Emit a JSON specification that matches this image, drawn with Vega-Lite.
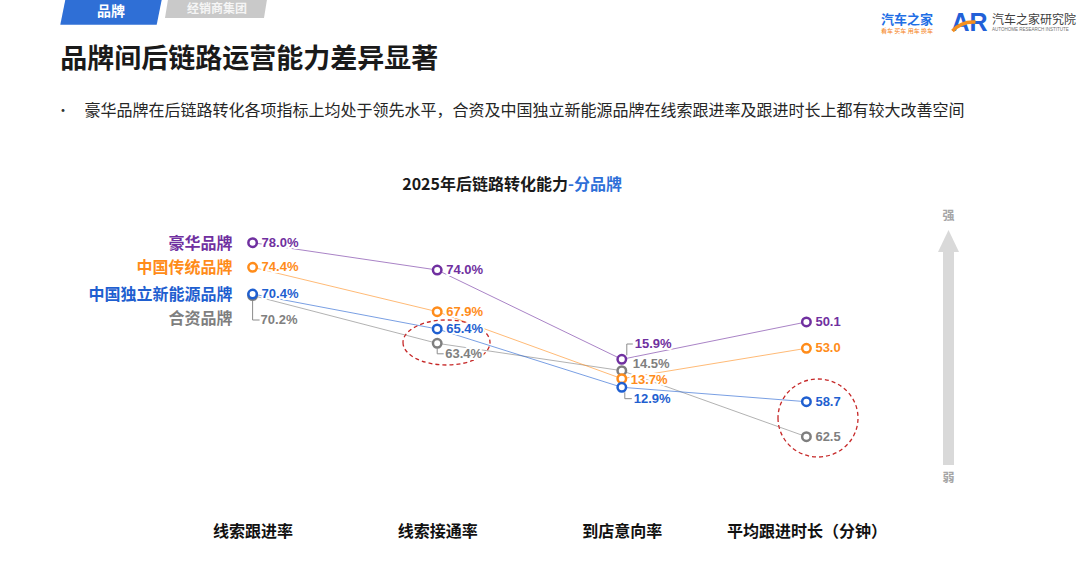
{
  "$schema": "https://vega.github.io/schema/vega-lite/v6.json",
  "width": 1080,
  "height": 515,
  "autosize": {"type": "none"},
  "padding": {"left": 0, "right": 0, "top": 0, "bottom": 53},
  "background": "#ffffff",
  "data": {"values": [
    {"brand": "合资品牌", "step": 1, "metric": "线索跟进率", "value": 70.2, "label": "70.2%", "score": 42.62},
    {"brand": "合资品牌", "step": 2, "metric": "线索接通率", "value": 63.4, "label": "63.4%", "score": 33.34},
    {"brand": "合资品牌", "step": 3, "metric": "到店意向率", "value": 14.5, "label": "14.5%", "score": 28.02},
    {"brand": "合资品牌", "step": 4, "metric": "平均跟进时长（分钟）", "value": 62.5, "label": "62.5", "score": 15.20},
    {"brand": "中国传统品牌", "step": 1, "metric": "线索跟进率", "value": 74.4, "label": "74.4%", "score": 48.10},
    {"brand": "中国传统品牌", "step": 2, "metric": "线索接通率", "value": 67.9, "label": "67.9%", "score": 39.48},
    {"brand": "中国传统品牌", "step": 3, "metric": "到店意向率", "value": 13.7, "label": "13.7%", "score": 26.47},
    {"brand": "中国传统品牌", "step": 4, "metric": "平均跟进时长（分钟）", "value": 53.0, "label": "53.0", "score": 32.37},
    {"brand": "豪华品牌", "step": 1, "metric": "线索跟进率", "value": 78.0, "label": "78.0%", "score": 52.87},
    {"brand": "豪华品牌", "step": 2, "metric": "线索接通率", "value": 74.0, "label": "74.0%", "score": 47.57},
    {"brand": "豪华品牌", "step": 3, "metric": "到店意向率", "value": 15.9, "label": "15.9%", "score": 30.23},
    {"brand": "豪华品牌", "step": 4, "metric": "平均跟进时长（分钟）", "value": 50.1, "label": "50.1", "score": 37.48},
    {"brand": "中国独立新能源品牌", "step": 1, "metric": "线索跟进率", "value": 70.4, "label": "70.4%", "score": 42.91},
    {"brand": "中国独立新能源品牌", "step": 2, "metric": "线索接通率", "value": 65.4, "label": "65.4%", "score": 36.12},
    {"brand": "中国独立新能源品牌", "step": 3, "metric": "到店意向率", "value": 12.9, "label": "12.9%", "score": 24.80},
    {"brand": "中国独立新能源品牌", "step": 4, "metric": "平均跟进时长（分钟）", "value": 58.7, "label": "58.7", "score": 22.00}
  ]},
  "layer": [
    {
      "mark": {"type": "line", "strokeWidth": 1, "opacity": 0.6},
      "encoding": {
        "x": {"field": "step", "type": "quantitative", "title": null,
              "scale": {"domain": [-0.36836, 5.48213], "nice": false, "zero": false},
              "axis": {"values": [1, 2, 3, 4], "labelExpr": "['','线索跟进率','线索接通率','到店意向率','平均跟进时长（分钟）'][datum.value]", "title": null}},
        "y": {"field": "score", "type": "quantitative", "title": null, "axis": null,
              "scale": {"domain": [0, 100], "nice": false, "zero": false}},
        "color": {"field": "brand", "type": "nominal", "legend": null,
                  "scale": {"domain": ["豪华品牌", "中国传统品牌", "中国独立新能源品牌", "合资品牌"], "range": ["#7030A0", "#FF8C1A", "#1F5FD0", "#7F7F7F"]}}
      }
    },
    {
      "data": {"values": [{}]},
      "mark": {"type": "point", "shape": "M -45.6 -13 L 50.8 -13 L 45.7 12.4 L -50.7 12.4 Z", "size": 4, "filled": true, "color": "#2F6FD6", "strokeWidth": 0, "opacity": 1},
      "encoding": {"x": {"datum": 0.2329, "type": "quantitative"}, "y": {"datum": 97.592, "type": "quantitative"}}
    },
    {
      "data": {"values": [{}]},
      "mark": {"type": "point", "shape": "M -48 -9.5 L 51 -9.5 L 48 9 L -51 9 Z", "size": 4, "filled": true, "color": "#C9C9C9", "strokeWidth": 0, "opacity": 1},
      "encoding": {"x": {"datum": 0.8017, "type": "quantitative"}, "y": {"datum": 98.252, "type": "quantitative"}}
    },
    {
      "data": {"values": [{}]},
      "mark": {"type": "text", "text": "品牌", "font": "Noto Sans CJK SC", "fontWeight": "bold", "fontSize": 14, "color": "#ffffff", "align": "center", "baseline": "middle"},
      "encoding": {"x": {"datum": 0.2329, "type": "quantitative"}, "y": {"datum": 97.67, "type": "quantitative"}}
    },
    {
      "data": {"values": [{}]},
      "mark": {"type": "text", "text": "经销商集团", "font": "Noto Sans CJK SC", "fontWeight": "bold", "fontSize": 12, "color": "#F5F5F5", "align": "center", "baseline": "middle"},
      "encoding": {"x": {"datum": 0.8072, "type": "quantitative"}, "y": {"datum": 98.3, "type": "quantitative"}}
    },
    {
      "data": {"values": [{}]},
      "mark": {"type": "text", "text": "品牌间后链路运营能力差异显著", "font": "Noto Sans CJK SC", "fontWeight": "bold", "fontSize": 27, "color": "#1A1A1A", "align": "left", "baseline": "middle"},
      "encoding": {"x": {"datum": -0.0417, "type": "quantitative"}, "y": {"datum": 88.35, "type": "quantitative"}}
    },
    {
      "data": {"values": [{}]},
      "mark": {"type": "text", "text": "•", "font": "Noto Sans CJK SC", "fontSize": 14, "color": "#333333", "align": "center", "baseline": "middle"},
      "encoding": {"x": {"datum": -0.0271, "type": "quantitative"}, "y": {"datum": 78.447, "type": "quantitative"}}
    },
    {
      "data": {"values": [{}]},
      "mark": {"type": "text", "text": "豪华品牌在后链路转化各项指标上均处于领先水平，合资及中国独立新能源品牌在线索跟进率及跟进时长上都有较大改善空间", "font": "Noto Sans CJK SC", "fontSize": 16, "color": "#262626", "align": "left", "baseline": "middle"},
      "encoding": {"x": {"datum": 0.0888, "type": "quantitative"}, "y": {"datum": 78.447, "type": "quantitative"}}
    },
    {
      "data": {"values": [{}]},
      "mark": {"type": "text", "text": "汽车之家", "font": "Noto Sans CJK SC", "fontWeight": "bold", "fontSize": 13, "color": "#1F6FE5", "align": "center", "baseline": "middle"},
      "encoding": {"x": {"datum": 4.545, "type": "quantitative"}, "y": {"datum": 96.117, "type": "quantitative"}}
    },
    {
      "data": {"values": [{}]},
      "mark": {"type": "text", "text": "看车 买车 用车 换车", "font": "Noto Sans CJK SC", "fontSize": 6, "color": "#F58220", "align": "center", "baseline": "middle"},
      "encoding": {"x": {"datum": 4.545, "type": "quantitative"}, "y": {"datum": 93.981, "type": "quantitative"}}
    },
    {
      "data": {"values": [{}]},
      "mark": {"type": "text", "text": "AR", "font": "Liberation Sans", "fontWeight": "bold", "fontSize": 25, "color": "#2260D8", "align": "center", "baseline": "middle"},
      "encoding": {"x": {"datum": 4.8836, "type": "quantitative"}, "y": {"datum": 95.534, "type": "quantitative"}}
    },
    {
      "data": {"values": [{}]},
      "mark": {"type": "point", "shape": "M -17 8 Q -8 -2 6 -1", "size": 4, "filled": false, "color": "#F5901F", "strokeWidth": 3.5, "opacity": 1},
      "encoding": {"x": {"datum": 4.8836, "type": "quantitative"}, "y": {"datum": 95.534, "type": "quantitative"}}
    },
    {
      "data": {"values": [{}]},
      "mark": {"type": "text", "text": "汽车之家研究院", "font": "Noto Sans CJK SC", "fontSize": 12, "color": "#404040", "align": "left", "baseline": "middle"},
      "encoding": {"x": {"datum": 5.0054, "type": "quantitative"}, "y": {"datum": 96.117, "type": "quantitative"}}
    },
    {
      "data": {"values": [{}]},
      "mark": {"type": "text", "text": "AUTOHOME RESEARCH INSTITUTE", "font": "Liberation Sans", "fontSize": 4.5, "color": "#707070", "align": "left", "baseline": "middle"},
      "encoding": {"x": {"datum": 5.0054, "type": "quantitative"}, "y": {"datum": 94.175, "type": "quantitative"}}
    },
    {
      "data": {"values": [{}]},
      "mark": {"type": "text", "text": "2025年后链路转化能力", "font": "Noto Sans CJK SC", "fontWeight": "bold", "fontSize": 16, "color": "#1A1A1A", "align": "right", "baseline": "middle"},
      "encoding": {"x": {"datum": 2.7086, "type": "quantitative"}, "y": {"datum": 64.078, "type": "quantitative"}}
    },
    {
      "data": {"values": [{}]},
      "mark": {"type": "text", "text": "-分品牌", "font": "Noto Sans CJK SC", "fontWeight": "bold", "fontSize": 16, "color": "#2E6FD8", "align": "left", "baseline": "middle"},
      "encoding": {"x": {"datum": 2.7086, "type": "quantitative"}, "y": {"datum": 64.078, "type": "quantitative"}}
    },
    {
      "data": {"values": [{}]},
      "mark": {"type": "rule", "strokeWidth": 11, "color": "#D9D9D9"},
      "encoding": {"x": {"datum": 4.7698, "type": "quantitative"}, "y": {"datum": 51.068, "type": "quantitative"}, "y2": {"datum": 9.709}}
    },
    {
      "data": {"values": [{}]},
      "mark": {"type": "point", "shape": "M 0 -11 L 10.5 11 L -10.5 11 Z", "size": 4, "filled": true, "color": "#D9D9D9", "strokeWidth": 0, "opacity": 1},
      "encoding": {"x": {"datum": 4.7698, "type": "quantitative"}, "y": {"datum": 53.204, "type": "quantitative"}}
    },
    {
      "data": {"values": [{}]},
      "mark": {"type": "text", "text": "强", "font": "Noto Sans CJK SC", "fontWeight": "bold", "fontSize": 12, "color": "#A6A6A6", "align": "center", "baseline": "middle"},
      "encoding": {"x": {"datum": 4.7698, "type": "quantitative"}, "y": {"datum": 58.058, "type": "quantitative"}}
    },
    {
      "data": {"values": [{}]},
      "mark": {"type": "text", "text": "弱", "font": "Noto Sans CJK SC", "fontWeight": "bold", "fontSize": 12, "color": "#A6A6A6", "align": "center", "baseline": "middle"},
      "encoding": {"x": {"datum": 4.7698, "type": "quantitative"}, "y": {"datum": 7.184, "type": "quantitative"}}
    },
    {
      "transform": [
        {"filter": "(datum.brand === '合资品牌' || datum.brand === '中国独立新能源品牌') && (datum.step === 2 || datum.step === 4)"},
        {"aggregate": [{"op": "mean", "field": "score", "as": "center"}], "groupby": ["step"]}
      ],
      "mark": {"type": "point", "size": 4, "filled": false, "color": "#C62828", "strokeWidth": 1.3, "strokeDash": [4, 3], "opacity": 1},
      "encoding": {
        "x": {"field": "step", "type": "quantitative", "title": null},
        "y": {"field": "center", "type": "quantitative", "title": null, "axis": null},
        "shape": {"condition": {"test": "datum.step === 2", "value": "M -34.2 6.35 A 43.5 22.5 0 1 0 52.8 6.35 A 43.5 22.5 0 1 0 -34.2 6.35 Z"},
                  "value": "M -28.4 -1.2 A 40 39 0 1 0 51.6 -1.2 A 40 39 0 1 0 -28.4 -1.2 Z"}
      }
    },
    {
      "transform": [
        {"filter": "(datum.brand === '合资品牌' && datum.step <= 2) || (datum.step === 3 && (datum.brand === '豪华品牌' || datum.brand === '中国独立新能源品牌'))"}
      ],
      "mark": {"type": "point", "size": 4, "filled": false, "color": "#8C8C8C", "strokeWidth": 1, "opacity": 1},
      "encoding": {
        "x": {"field": "step", "type": "quantitative", "title": null},
        "y": {"field": "score", "type": "quantitative", "title": null, "axis": null},
        "shape": {"condition": [
                    {"test": "datum.brand === '合资品牌' && datum.step === 1", "value": "M 0 5 L 0 24.5 L 7 24.5"},
                    {"test": "datum.brand === '合资品牌' && datum.step === 2", "value": "M 0 5 L 0 10.5 L 7 10.5"},
                    {"test": "datum.brand === '豪华品牌'", "value": "M 5 -4 L 5 -15.3 L 11 -15.3"}
                  ],
                  "value": "M 3 5 L 3 11.4 L 10 11.4"}
      }
    },
    {
      "mark": {"type": "point", "size": 72, "strokeWidth": 2.5, "fill": "#ffffff", "filled": true, "opacity": 1},
      "encoding": {
        "x": {"field": "step", "type": "quantitative", "title": null},
        "y": {"field": "score", "type": "quantitative", "title": null, "axis": null},
        "stroke": {"field": "brand", "type": "nominal", "legend": null,
                   "scale": {"domain": ["豪华品牌", "中国传统品牌", "中国独立新能源品牌", "合资品牌"], "range": ["#7030A0", "#FF8C1A", "#1F5FD0", "#7F7F7F"]}}
      }
    },
    {
      "mark": {"type": "text", "font": "Liberation Sans", "fontWeight": "bold", "fontSize": 13, "align": "left", "baseline": "middle",
               "color": "#ffffff", "stroke": "#ffffff", "strokeWidth": 4, "strokeJoin": "round",
               "dx": {"expr": "datum.brand === '合资品牌' && datum.step <= 2 ? 8 : (datum.step === 3 ? (datum.brand === '豪华品牌' ? 13 : (datum.brand === '中国独立新能源品牌' ? 12 : (datum.brand === '合资品牌' ? 11 : 9))) : 9)"},
               "dy": {"expr": "datum.brand === '合资品牌' ? (datum.step === 1 ? 24.5 : (datum.step === 2 ? 10.5 : (datum.step === 3 ? -6.7 : 0))) : (datum.step === 3 ? (datum.brand === '豪华品牌' ? -15.3 : (datum.brand === '中国独立新能源品牌' ? 11.4 : 1)) : 0)"}},
      "encoding": {
        "x": {"field": "step", "type": "quantitative", "title": null},
        "y": {"field": "score", "type": "quantitative", "title": null, "axis": null},
        "text": {"field": "label", "type": "nominal"}
      }
    },
    {
      "mark": {"type": "text", "font": "Liberation Sans", "fontWeight": "bold", "fontSize": 13, "align": "left", "baseline": "middle",
               "dx": {"expr": "datum.brand === '合资品牌' && datum.step <= 2 ? 8 : (datum.step === 3 ? (datum.brand === '豪华品牌' ? 13 : (datum.brand === '中国独立新能源品牌' ? 12 : (datum.brand === '合资品牌' ? 11 : 9))) : 9)"},
               "dy": {"expr": "datum.brand === '合资品牌' ? (datum.step === 1 ? 24.5 : (datum.step === 2 ? 10.5 : (datum.step === 3 ? -6.7 : 0))) : (datum.step === 3 ? (datum.brand === '豪华品牌' ? -15.3 : (datum.brand === '中国独立新能源品牌' ? 11.4 : 1)) : 0)"}},
      "encoding": {
        "x": {"field": "step", "type": "quantitative", "title": null},
        "y": {"field": "score", "type": "quantitative", "title": null, "axis": null},
        "text": {"field": "label", "type": "nominal"},
        "color": {"field": "brand", "type": "nominal", "legend": null}
      }
    },
    {
      "transform": [{"filter": "datum.step === 1"}],
      "mark": {"type": "text", "font": "Noto Sans CJK SC", "fontWeight": "bold", "fontSize": 16, "align": "right", "baseline": "middle", "dx": -20,
               "dy": {"expr": "datum.brand === '合资品牌' ? 23 : 1"}},
      "encoding": {
        "x": {"field": "step", "type": "quantitative", "title": null},
        "y": {"field": "score", "type": "quantitative", "title": null, "axis": null},
        "text": {"field": "brand", "type": "nominal"},
        "color": {"field": "brand", "type": "nominal", "legend": null}
      }
    }
  ],
  "config": {
    "view": {"stroke": null},
    "axisY": {"disable": true},
    "axisX": {"domain": false, "ticks": false, "tickSize": 0, "grid": false, "labelPadding": 8,
              "labelFont": "Noto Sans CJK SC", "labelFontWeight": "bold", "labelFontSize": 16, "labelColor": "#111111",
              "labelBaseline": "top", "title": null}
  }
}
